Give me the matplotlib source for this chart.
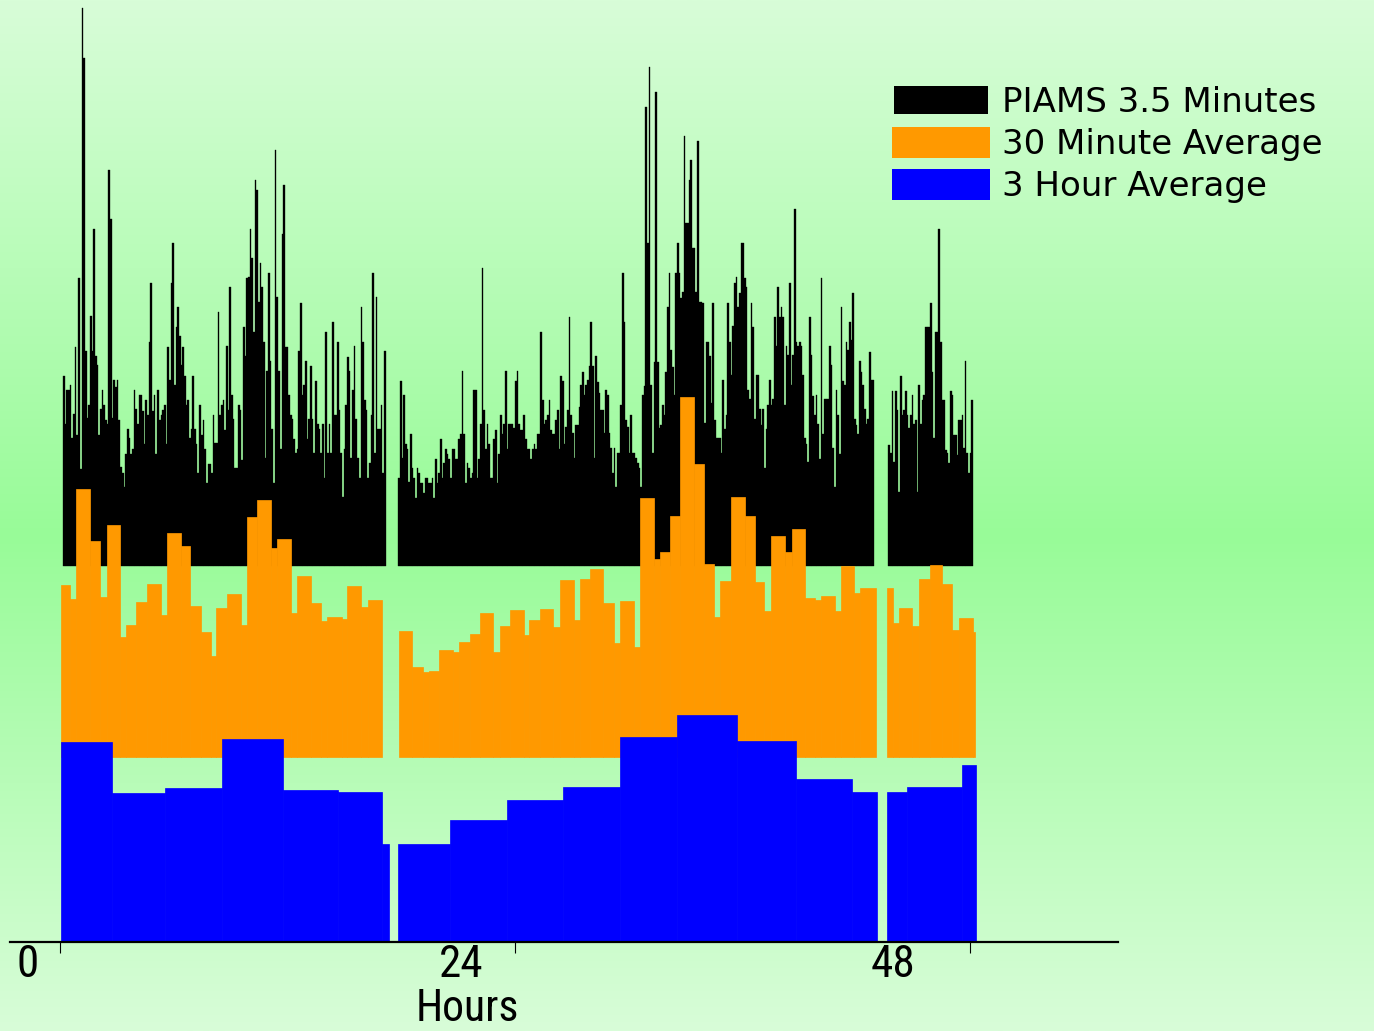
import numpy as np
import matplotlib
matplotlib.use("Agg")
import matplotlib.pyplot as plt
from matplotlib.patches import Rectangle
from matplotlib import font_manager

# ------------------------------------------------------------------ data
hour_ticks = [0, 24, 48]
tick_labels = ["0", "24", "48"]
x_label = "Hours"
series_names = ["PIAMS 3.5 Minutes", "30 Minute Average", "3 Hour Average"]

# 3-hour averages: bin edges (hours) for each continuous sampling period, values
blue_edges = [
    [0.07, 2.72, 5.56, 8.54, 11.77, 14.67, 16.97, 17.35],
    [17.84, 20.59, 23.55, 26.53, 29.56, 32.54, 35.70, 38.83, 41.77, 43.09],
    [43.62, 44.67, 47.58, 48.30],
]
blue_values = [
    [200, 149, 154, 203, 152, 150, 98],
    [98, 122, 142, 155, 205, 227, 201, 163, 150],
    [150, 155, 177],
]

# 30-minute averages
orange_edges = [
    [0.05, 0.53, 0.84, 1.58, 2.11, 2.46, 3.16, 3.48, 4.01, 4.57, 5.31, 5.63,
     6.37, 6.86, 7.44, 7.95, 8.23, 8.79, 9.53, 9.85, 10.39, 11.11, 11.45,
     12.17, 12.50, 13.22, 13.75, 14.08, 14.86, 15.14, 15.86, 16.25, 16.97],
    [17.88, 18.59, 19.13, 19.48, 20.01, 20.73, 21.05, 21.61, 22.13, 22.86,
     23.18, 23.72, 24.45, 24.76, 25.32, 26.00, 26.36, 27.10, 27.45, 27.97,
     28.66, 29.22, 29.55, 30.27, 30.59, 31.33, 31.65, 32.17, 32.70, 33.44,
     33.97, 34.50, 34.81, 35.37, 36.13, 36.64, 37.14, 37.48, 38.24, 38.61,
     39.30, 39.81, 40.12, 40.89, 41.21, 41.90, 42.21, 43.06],
    [43.62, 43.91, 44.25, 44.96, 45.29, 45.86, 46.52, 47.07, 47.42, 48.15, 48.28],
]
orange_values = [
    [172, 158, 268, 216, 160, 232, 120, 132, 155, 173, 142, 224, 211, 151, 125,
     101, 149, 163, 132, 240, 257, 209, 218, 144, 181, 154, 136, 140, 138, 171,
     150, 157],
    [126, 90, 85, 86, 107, 105, 115, 123, 144, 105, 131, 147, 122, 137, 148, 130,
     177, 137, 178, 188, 154, 114, 156, 110, 259, 198, 205, 241, 360, 293, 193,
     140, 176, 260, 241, 175, 146, 221, 205, 228, 159, 157, 161, 146, 191, 164,
     169],
    [169, 134, 149, 131, 178, 192, 173, 127, 139, 125],
]

# PIAMS 3.5-minute data: start / end hour of each sampling period and readings
black_spans = [(0.16, 17.18), (17.84, 42.94), (43.69, 48.16)]
black_values = [
    [190, 142, 176, 176, 181, 128, 152, 219, 131, 288, 97, 558, 508, 215, 148,
     161, 250, 215, 337, 210, 201, 131, 157, 176, 161, 146, 142, 396, 347, 148,
     186, 179, 186, 146, 99, 93, 79, 112, 137, 128, 112, 117, 176, 157, 142,
     171, 171, 155, 122, 166, 151, 224, 283, 155, 171, 112, 176, 146, 151, 156,
     161, 122, 219, 186, 283, 323, 181, 239, 259, 230, 201, 219, 190, 161, 166,
     128, 137, 190, 137, 122, 93, 161, 131, 146, 117, 83, 102, 102, 93,
     151, 123, 123, 254, 151, 161, 166, 136, 220, 156, 279, 171, 147, 98, 98,
     161, 156, 106, 239, 210, 288, 289, 337, 308, 234, 386, 376, 264, 303, 279,
     224, 108, 195, 293, 205, 137, 83, 416, 269, 195, 117, 332, 381, 219, 219,
     171, 151, 147, 127, 113, 117, 215, 263, 171, 181, 205, 127, 147, 200, 147,
     113, 185, 142, 137, 113, 142, 88, 234, 113, 142, 113, 244, 151, 151, 224,
     156, 113, 69, 117, 161, 209, 195, 108, 176, 220, 147, 108, 88, 259, 224,
     166, 156, 88, 103, 151, 293, 113, 269, 137, 137, 161, 93, 215],
    [88, 185, 108, 171, 122, 117, 84, 132, 98, 88, 68, 98, 93, 83, 83, 73, 88,
     88, 83, 83, 88, 68, 107, 83, 93, 127, 88, 103, 117, 112, 107, 88, 117, 117,
     107, 107, 127, 132, 195, 132, 83, 103, 98, 88, 93, 176, 176, 88, 107, 142,
     298, 156, 117, 142, 122, 88, 88, 127, 136, 83, 112, 151, 132, 142, 195, 117,
     142, 142, 142, 138, 185, 195, 142, 136, 136, 151, 127, 117, 117, 107, 117,
     122, 117, 132, 132, 234, 166, 142, 146, 151, 166, 136, 132, 132, 146, 156,
     117, 190, 185, 122,
     139, 156, 249, 151, 133, 108, 141, 141, 159, 181, 194, 171, 181, 186, 200,
     244, 200, 108, 210, 184, 173, 156, 156, 133, 176, 171, 133, 118, 93, 118,
     79, 113, 113, 161, 293, 244, 146, 139, 113, 151, 113, 113, 108, 103, 98,
     79, 171, 180, 459, 323, 499, 181, 113, 204, 474, 204, 138, 141, 161, 151,
     194, 259, 293, 216, 199, 171, 293, 323, 293, 268, 274, 430, 343, 343, 386,
     406, 318, 318, 274, 425, 264, 264, 263, 143, 224, 224, 210, 163, 263, 146,
     128, 128, 128,
     113, 186, 137, 151, 263, 224, 191, 240, 283, 289, 259, 273, 323, 323, 288,
     279, 176, 167, 263, 239, 147, 191, 191, 157, 141, 157, 98, 137, 161, 186,
     161, 167, 249, 220, 279, 249, 259, 249, 161, 220, 211, 283, 181, 211, 357,
     224, 220, 224, 220, 191, 128, 122, 104, 249, 211, 170, 151, 171, 142, 107,
     288, 132, 167, 167, 167, 220, 201, 118, 79, 176, 151, 112, 259, 185, 181,
     224, 216, 244, 226, 273, 147, 141, 132, 205, 194, 181, 157, 142, 147, 214,
     186, 186],
    [121, 113, 175, 104, 175, 156, 74, 190, 151, 156, 175, 151, 138, 151, 171,
     142, 146, 74, 181, 142, 166, 171, 239, 239, 239, 263, 194, 128, 234, 234,
     337, 224, 166, 166, 116, 113, 103, 175, 171, 131, 131, 111, 146, 146, 151,
     118, 205, 113, 93, 113, 166],
]

# ------------------------------------------------------------------ layout / style
W, H = 1374, 1031
BLACK, ORANGE, BLUE = "#000000", "#ff9900", "#0000ff"
ORANGE_BASE = 185     # vertical offset of the 30-min trace
BLACK_BASE = 376      # vertical offset of the 3.5-min trace

available = {f.name for f in font_manager.fontManager.ttflist}
FONT_AXIS = [f for f in ["Liberation Sans Narrow", "Roboto Condensed",
                         "Open Sans Condensed", "Liberation Sans", "DejaVu Sans"]
             if f in available] or ["DejaVu Sans"]

fig = plt.figure(figsize=(W / 100, H / 100), dpi=100)

# background: vertical green gradient, light at top and bottom
bg = fig.add_axes([0, 0, 1, 1], zorder=-10)
light = np.array([216, 253, 216]) / 255.0
deep = np.array([152, 251, 152]) / 255.0
yy = np.linspace(0, 1, 512)
center = 0.52
t = np.where(yy < center, (center - yy) / center, (yy - center) / (1 - center))[:, None]
grad = deep[None, :] * (1 - t) + light[None, :] * t
bg.imshow(grad[:, None, :], aspect="auto", extent=[0, 1, 0, 1], origin="upper")
bg.set_axis_off()

ax = fig.add_axes([10 / W, 89 / H, 1108 / W, 942 / H])
ax.set_facecolor("none")
ax.set_xlim(-2.637, 55.80)
ax.set_ylim(0, 942)


def draw_binned(edges_list, values_list, base, color, z):
    for edges, vals in zip(edges_list, values_list):
        e = np.asarray(edges, dtype=float)
        ax.bar(e[:-1], vals, width=np.diff(e), bottom=base, align="edge",
               color=color, edgecolor=color, linewidth=0.5, zorder=z)


# 3.5-minute trace
for (t0, t1), vals in zip(black_spans, black_values):
    e = np.linspace(t0, t1, len(vals) + 1)
    ax.bar(e[:-1], vals, width=np.diff(e), bottom=BLACK_BASE, align="edge",
           color=BLACK, edgecolor=BLACK, linewidth=0.25, zorder=2)

draw_binned(orange_edges, orange_values, ORANGE_BASE, ORANGE, 3)
draw_binned(blue_edges, blue_values, 0, BLUE, 4)

# axes styling
for s in ("left", "right", "top"):
    ax.spines[s].set_visible(False)
ax.spines["bottom"].set_linewidth(1.6)
ax.spines["bottom"].set_zorder(5)
ax.set_yticks([])
ax.set_xticks(hour_ticks)
ax.set_xticklabels([])
ax.tick_params(axis="x", direction="out", length=8, width=0.8, color="black")

xt = ax.get_xaxis_transform()
label_x = [-1.69, 21.15, 43.94]
digit_texts = []
for lx, lab in zip(label_x, tick_labels):
    digit_texts.append(ax.text(lx, -0.002, lab, transform=xt, ha="center", va="top",
                               fontsize=35, family=FONT_AXIS, color="black",
                               clip_on=False))
# "Hours": bottom of its box sits just above the figure edge
hours = ax.text(21.47, -(1030 - 942) / 942, x_label, transform=xt, ha="center",
                va="bottom", fontsize=34, family=FONT_AXIS, color="black",
                clip_on=False)

# shrink the axis texts together until their boxes no longer touch
fig.canvas.draw()
r = fig.canvas.get_renderer()
for _ in range(30):
    bd = digit_texts[1].get_window_extent(r)
    bh = hours.get_window_extent(r)
    if bd.y0 > bh.y1 + 1:
        break
    for tx in digit_texts:
        tx.set_fontsize(tx.get_fontsize() - 0.5)
    hours.set_fontsize(hours.get_fontsize() - 0.5)

# legend (drawn in figure pixels)
leg_rows = [
    ((894, 86, 988, 114), 112),
    ((892, 127, 990, 158), 154),
    ((892, 169, 990, 200), 196),
]
for ((x0, y0, x1, y1), base), col, name in zip(leg_rows, [BLACK, ORANGE, BLUE], series_names):
    fig.add_artist(Rectangle((x0 / W, 1 - y1 / H), (x1 - x0) / W, (y1 - y0) / H,
                             transform=fig.transFigure, facecolor=col,
                             edgecolor="none"))
    fig.text(1002 / W, 1 - base / H, name, ha="left", va="baseline",
             fontsize=24.5, family=["DejaVu Sans"], color="black")

fig.savefig("out.png", dpi=100)
